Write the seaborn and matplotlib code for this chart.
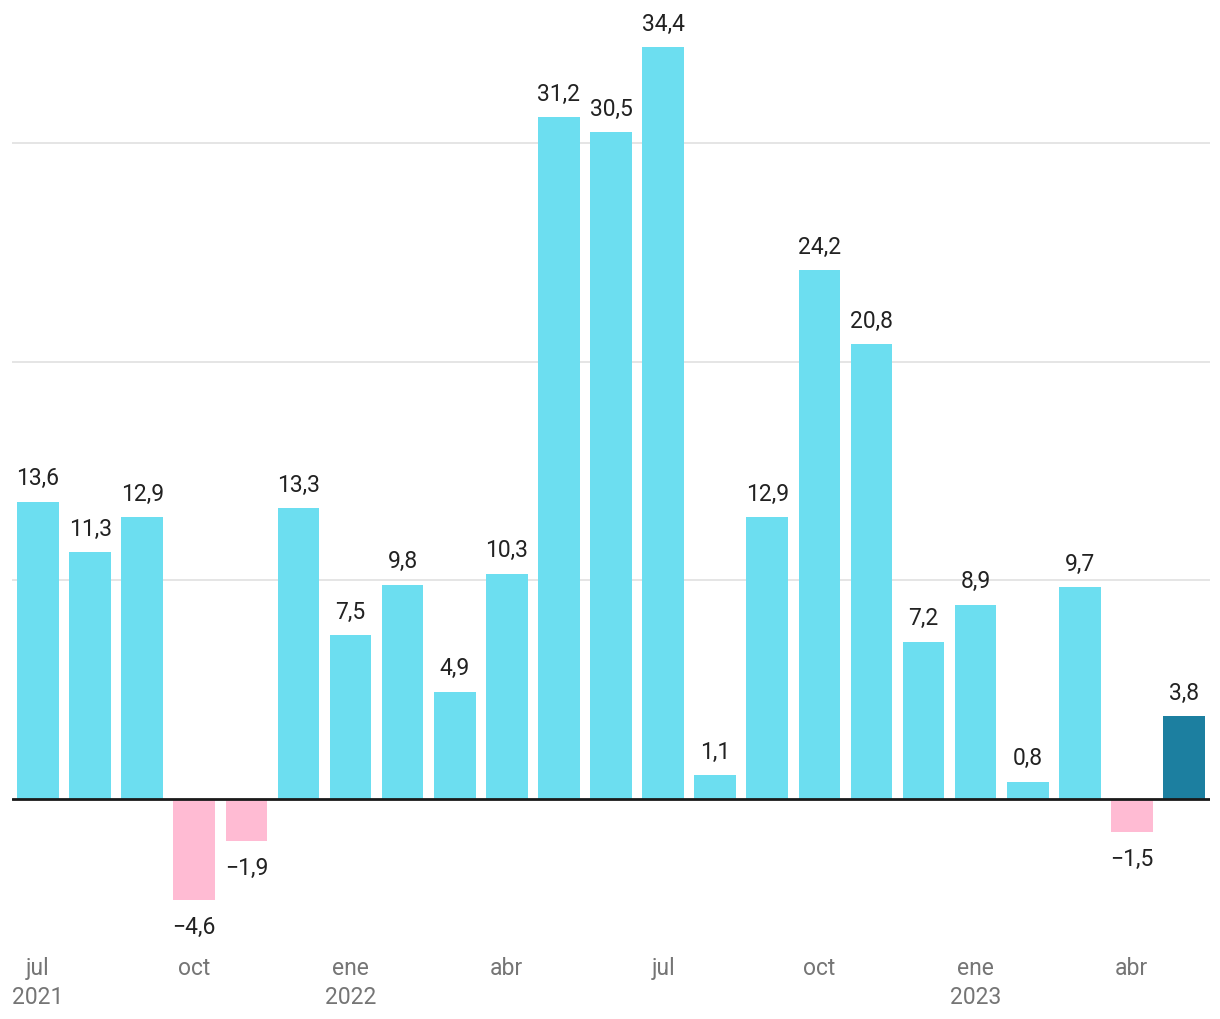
import matplotlib
matplotlib.use("Agg")
import matplotlib.pyplot as plt
import seaborn as sns
import pandas as pd

months = ["jul21", "ago21", "sep21", "oct21", "nov21", "dic21",
          "ene22", "feb22", "mar22", "abr22", "may22", "jun22",
          "jul22", "ago22", "sep22", "oct22", "nov22", "dic22",
          "ene23", "feb23", "mar23", "abr23", "may23"]
values = [13.6, 11.3, 12.9, -4.6, -1.9, 13.3,
          7.5, 9.8, 4.9, 10.3, 31.2, 30.5,
          34.4, 1.1, 12.9, 24.2, 20.8, 7.2,
          8.9, 0.8, 9.7, -1.5, 3.8]
tick_idx = [0, 3, 6, 9, 12, 15, 18, 21]
tick_labels = ["jul\n2021", "oct", "ene\n2022", "abr", "jul", "oct", "ene\n2023", "abr"]

POS = "#6cdef0"
NEG = "#ffbbd3"
LAST = "#1c7fa0"

df = pd.DataFrame({"month": months, "value": values})
colors = [NEG if v < 0 else POS for v in values]
colors[-1] = LAST

sns.set_style("white")
plt.rcParams["font.family"] = ["Roboto", "DejaVu Sans"]

fig = plt.figure(figsize=(12.2, 10.2), dpi=100)
ax = fig.add_axes([12 / 1220, 80 / 1020, 1198 / 1220, 930 / 1020])

sns.barplot(data=df, x="month", y="value", hue="month", palette=colors,
            legend=False, width=0.8, saturation=1, linewidth=0, ax=ax, zorder=2)

ax.set_xlim(-0.5, len(months) - 0.5)
ax.set_ylim(-6.4, 36.14)

for y in [10, 20, 30]:
    ax.axhline(y, color="#e3e3e3", lw=1.3, zorder=1)
ax.axhline(0, color="#1a1a1a", lw=2, zorder=3)

for i, v in enumerate(values):
    txt = f"{abs(v):.1f}".replace(".", ",")
    if v < 0:
        txt = "\u2212" + txt
        ax.annotate(txt, (i, v), xytext=(0, -11), textcoords="offset points",
                    ha="center", va="top", fontsize=16.5, color="#222222")
    else:
        ax.annotate(txt, (i, v), xytext=(0, 9), textcoords="offset points",
                    ha="center", va="bottom", fontsize=16.5, color="#222222")

ax.set_xticks(tick_idx)
ax.set_xticklabels(tick_labels, fontsize=16.5, color="#757575", linespacing=1.35)
ax.tick_params(axis="x", length=0, pad=12)
ax.set_yticks([])
ax.set_xlabel("")
ax.set_ylabel("")
sns.despine(ax=ax, left=True, bottom=True)

fig.savefig("out.png", dpi=100)
